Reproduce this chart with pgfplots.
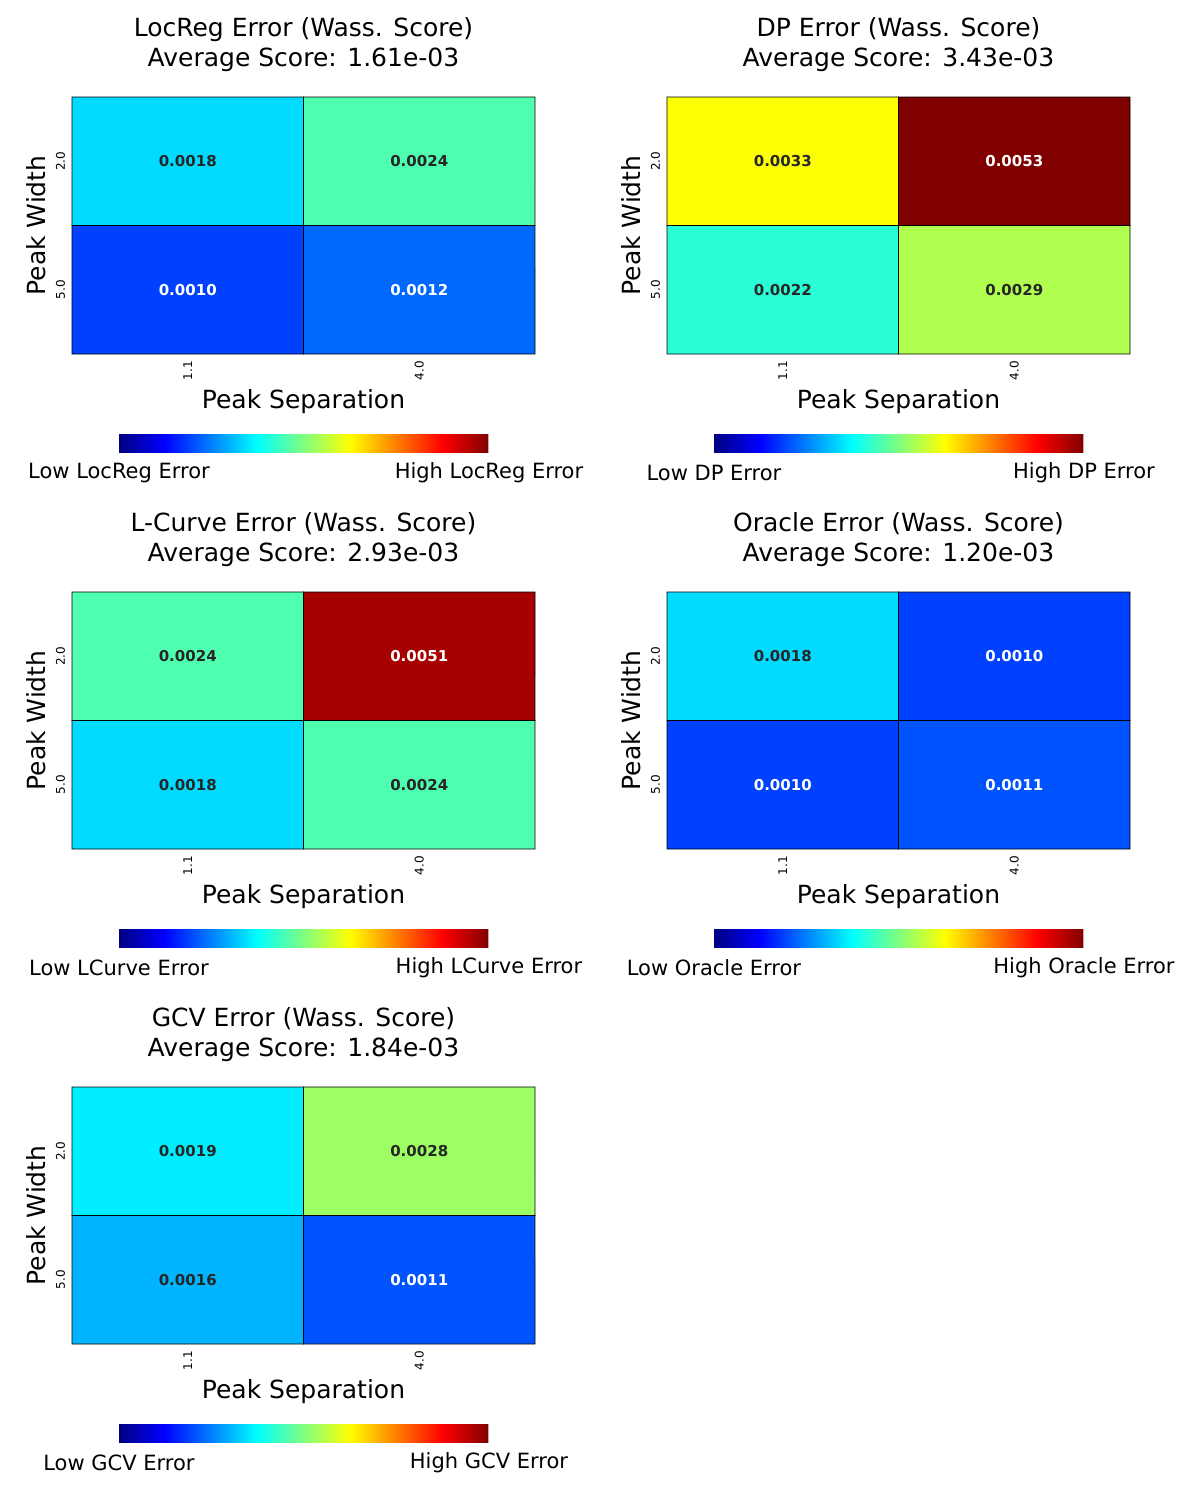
\documentclass[border=0pt]{standalone}
\usepackage{fontspec}
\setmainfont{DejaVu Sans}
\usepackage{pgfplots}
\pgfplotsset{compat=1.18}
\newcommand\setcol[2]{\pgfmathparse{((#2<0.00125)||(#2>0.005))?1:0}\ifnum\pgfmathresult=1 \def#1{white}\else\def#1{black!85}\fi}
\newcommand\panel[9]{%
\setcol\cA{#6}\setcol\cB{#7}\setcol\cC{#8}\setcol\cD{#9}%
\begin{axis}[at={(#1)},anchor=north west,scale only axis,width=231.5pt,height=128.5pt,
 xmin=-0.5,xmax=1.5,ymin=-0.5,ymax=1.5,y dir=reverse,enlargelimits=false,
 axis line style={draw=none},tick pos=left,major tick length=3pt,tick style={black},
 xtick={0,1},xticklabels={1.1,4.0},ytick={0,1},yticklabels={2.0,5.0},
 ticklabel style={font=\fontsize{6}{7}\selectfont},
 xticklabel style={rotate=90,anchor=east},yticklabel style={rotate=90,anchor=south},
 xlabel={Peak Separation},ylabel={Peak Width},
 label style={font=\fontsize{12.5}{14}\selectfont},
 xlabel style={yshift=2pt},ylabel style={yshift=-2pt},
 colormap/jet,point meta min=0,point meta max=0.0053,
 colorbar horizontal,colorbar style={at={(0.5,-0.315)},anchor=north,width=185pt,height=9pt,xtick=\empty,axis line style={draw=none}},
 clip=false]
\addplot[matrix plot*,mesh/cols=2,point meta=explicit,draw=black,line width=0.4pt] table[meta=c,row sep=\\]{
x y c\\
0 0 #6\\
1 0 #7\\
0 1 #8\\
1 1 #9\\
};
\node[\cA,font=\bfseries\fontsize{7.5}{9}\selectfont] at (axis cs:0,0) {#6};
\node[\cB,font=\bfseries\fontsize{7.5}{9}\selectfont] at (axis cs:1,0) {#7};
\node[\cC,font=\bfseries\fontsize{7.5}{9}\selectfont] at (axis cs:0,1) {#8};
\node[\cD,font=\bfseries\fontsize{7.5}{9}\selectfont] at (axis cs:1,1) {#9};
\node[anchor=south,align=center,font=\fontsize{12.5}{15}\selectfont,yshift=9pt] at (rel axis cs:0.5,1) {#3 Error (Wass. Score)\\Average Score: #4};
\node[font=\fontsize{10.5}{12}\selectfont] at (rel axis cs:0.1015,-0.463) {Low #5 Error};
\node[font=\fontsize{10.5}{12}\selectfont] at (rel axis cs:0.9006,-0.463) {High #5 Error};
\end{axis}}
\begin{document}
\begin{tikzpicture}
\path[use as bounding box] (0,0) rectangle (600pt,-750pt);
\panel{36pt,-48.5pt}{}{LocReg}{1.61e-03}{LocReg}{0.0018}{0.0024}{0.0010}{0.0012}
\panel{333.5pt,-48.5pt}{}{DP}{3.43e-03}{DP}{0.0033}{0.0053}{0.0022}{0.0029}
\panel{36pt,-296pt}{}{L-Curve}{2.93e-03}{LCurve}{0.0024}{0.0051}{0.0018}{0.0024}
\panel{333.5pt,-296pt}{}{Oracle}{1.20e-03}{Oracle}{0.0018}{0.0010}{0.0010}{0.0011}
\panel{36pt,-543.5pt}{}{GCV}{1.84e-03}{GCV}{0.0019}{0.0028}{0.0016}{0.0011}
\end{tikzpicture}
\end{document}
